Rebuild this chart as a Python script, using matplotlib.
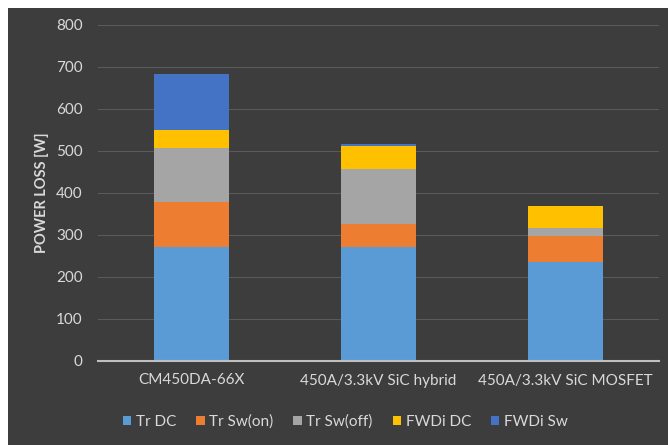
import numpy as np
import matplotlib
matplotlib.use("Agg")
import matplotlib.pyplot as plt
from matplotlib.patches import Rectangle

plt.rcParams['font.family'] = ['Lato', 'DejaVu Sans']

# ---- data ----
categories = ["CM450DA-66X", "450A/3.3kV SiC hybrid", "450A/3.3kV SiC MOSFET"]
series_names = ["Tr DC", "Tr Sw(on)", "Tr Sw(off)", "FWDi DC", "FWDi Sw"]
tr_dc = [271, 271, 235]
tr_sw_on = [107, 54, 62]
tr_sw_off = [130, 131, 19]
fwdi_dc = [43, 56, 52]
fwdi_sw = [133, 4, 1]
colors = ["#5B9BD5", "#ED7D31", "#A5A5A5", "#FFC000", "#4472C4"]

series = [tr_dc, tr_sw_on, tr_sw_off, fwdi_dc, fwdi_sw]

BG = "#3d3d3d"
TXT = "#d9d9d9"

fig = plt.figure(figsize=(6.68, 4.45), dpi=100, facecolor="white")
# dark chart area (small white margin top/left as in the screenshot)
fig.patches.append(Rectangle((8 / 668, 0), 1, 1 - 8 / 445, transform=fig.transFigure,
                             facecolor=BG, edgecolor="none", zorder=-10))

ax = fig.add_axes([98 / 668, 1 - 361 / 445, (659 - 98) / 668, (361 - 25) / 445])
ax.set_facecolor("none")

x = np.arange(len(categories))
bottom = np.zeros(len(categories))
for name, vals, c in zip(series_names, series, colors):
    ax.bar(x, vals, width=0.4, bottom=bottom, color=c, label=name, zorder=3)
    bottom += np.array(vals)

ax.set_xlim(-0.5, len(categories) - 0.5)
ax.set_ylim(0, 800)
ax.set_yticks(np.arange(0, 801, 100))
ax.yaxis.grid(True, color="#5a5a5a", linewidth=0.8, zorder=0)
ax.set_axisbelow(True)

for s in ["top", "right", "left"]:
    ax.spines[s].set_visible(False)
ax.spines["bottom"].set_color("#bfbfbf")
ax.spines["bottom"].set_linewidth(1.5)
ax.spines["bottom"].set_zorder(4)

ax.set_xticks(x)
ax.set_xticklabels(categories)
ax.tick_params(axis="both", length=0, colors=TXT, labelsize=11)
ax.tick_params(axis="x", pad=9)
ax.tick_params(axis="y", pad=11)

ax.set_ylabel("POWER LOSS [W]", color=TXT, fontsize=10.5, fontweight="bold", labelpad=5)

leg = fig.legend(loc="center", bbox_to_anchor=(0.517, 1 - 422 / 445), ncol=5,
                 frameon=False, fontsize=11, handlelength=0.55, handleheight=0.55,
                 handletextpad=0.3, columnspacing=1.3)
for t in leg.get_texts():
    t.set_color(TXT)

fig.savefig("out.png", dpi=100, facecolor=fig.get_facecolor())
